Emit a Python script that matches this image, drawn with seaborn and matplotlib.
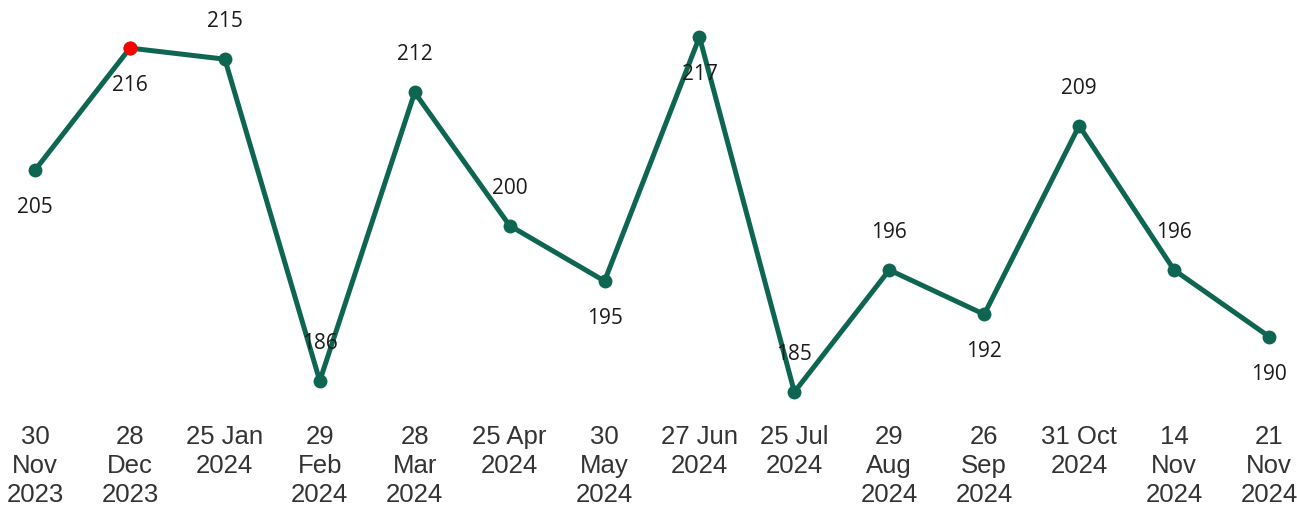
import matplotlib
matplotlib.use("Agg")
import matplotlib.pyplot as plt
import seaborn as sns
import pandas as pd

dates = ["30\nNov\n2023", "28\nDec\n2023", "25 Jan\n2024", "29\nFeb\n2024", "28\nMar\n2024",
         "25 Apr\n2024", "30\nMay\n2024", "27 Jun\n2024", "25 Jul\n2024", "29\nAug\n2024",
         "26\nSep\n2024", "31 Oct\n2024", "14\nNov\n2024", "21\nNov\n2024"]
values = [205, 216, 215, 186, 212, 200, 195, 217, 185, 196, 192, 209, 196, 190]
label_side = ["below", "below", "above", "above", "above", "above", "below",
              "below", "above", "above", "below", "above", "above", "below"]
highlight = 1

df = pd.DataFrame({"pos": range(len(values)), "value": values})

sns.set_style("white")
plt.rcParams["font.family"] = ["Open Sans", "DejaVu Sans"]

fig = plt.figure(figsize=(12.97, 5.07), dpi=100)
ax = fig.add_axes([0, (507 - 392) / 507, 1, (392 - 37) / 507])

line_color = "#0E6652"
sns.lineplot(data=df, x="pos", y="value", ax=ax, color=line_color, linewidth=3.6,
             marker="o", markersize=10, markeredgewidth=0, clip_on=False, zorder=2)
sns.scatterplot(data=df.iloc[[highlight]], x="pos", y="value", ax=ax, color="#FF0000",
                s=100, linewidth=0, zorder=3, clip_on=False)

for i, (v, side) in enumerate(zip(values, label_side)):
    dy = 27 if side == "above" else -27
    ax.annotate(str(v), (i, v), xytext=(0, dy), textcoords="offset points",
                ha="center", va="center", fontsize=15, color="#1a1a1a",
                annotation_clip=False, zorder=4)

ax.set_xlim(-35 / 94.9, 13 + 28 / 94.9)
ax.set_ylim(185, 217)
ax.set_xticks(range(len(dates)))
ax.set_xticklabels(dates, fontsize=18.5, color="#333333", linespacing=1.26,
                   family=["Liberation Sans", "DejaVu Sans"], va="top")
ax.tick_params(axis="x", length=0, pad=24)
ax.set_yticks([])
ax.set_xlabel("")
ax.set_ylabel("")
for s in ax.spines.values():
    s.set_visible(False)

fig.savefig("out.png", dpi=100, facecolor="white")
